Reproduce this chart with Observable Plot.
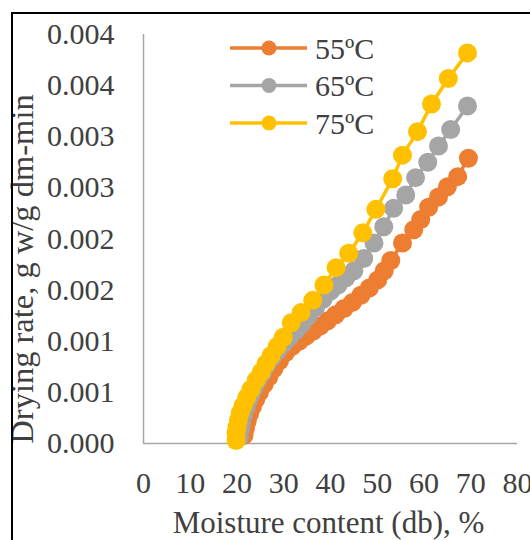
<!DOCTYPE html>
<html>
<head>
<meta charset="utf-8">
<script src="https://cdn.jsdelivr.net/npm/d3@7"></script>
<script src="https://cdn.jsdelivr.net/npm/@observablehq/plot@0.6"></script>
<style>
  html, body { margin: 0; padding: 0; background: #fff; overflow: hidden; }
  #wrap { position: relative; width: 530px; height: 540px; }
  #border { position: absolute; left: 11px; top: 12px; width: 600px; height: 600px;
            border-left: 2px solid #000; border-top: 2px solid #000; pointer-events: none; }
  #legend { position: absolute; left: 0; top: 0; pointer-events: none; }
</style>
</head>
<body>
<div id="wrap"><div id="chart"></div><svg id="legend" width="530" height="540"></svg><div id="border"></div></div>
<script>
// ---- data ----
const series = ["55ºC", "65ºC", "75ºC"];
const colors = ["#ED7D31", "#A5A5A5", "#FFC000"];

const m55 = [69.5,67.2,65.0,63.1,61.0,59.3,57.8,55.4,52.9,51.5,50.1,48.3,46.5,44.7,42.9,41.1,39.4,37.8,36.3,34.8,33.3,31.8,30.4,29.1,27.9,26.8,25.8,24.8,24.0,23.3,22.7,22.2,21.8,21.5];
const r55 = [0.00279,0.00261,0.00251,0.00241,0.00231,0.00219,0.00209,0.00196,0.00179,0.00169,0.00160,0.00152,0.00145,0.00138,0.00132,0.00126,0.00120,0.00115,0.00110,0.00105,0.00100,0.00095,0.00089,0.00081,0.00073,0.00065,0.00058,0.00050,0.00043,0.00036,0.00029,0.00022,0.00015,0.00008];

const m65 = [69.3,65.7,63.1,60.8,58.2,56.1,53.5,51.4,49.3,47.1,45.0,43.3,41.6,40.0,38.4,36.8,35.3,33.9,32.5,31.2,30.0,28.7,27.5,26.4,25.4,24.5,23.7,23.0,22.4,21.9,21.4,21.0,20.7,20.5];
const r65 = [0.00330,0.00307,0.00291,0.00275,0.00260,0.00243,0.00230,0.00212,0.00196,0.00181,0.00169,0.00162,0.00155,0.00149,0.00141,0.00133,0.00125,0.00117,0.00110,0.00104,0.00098,0.00091,0.00084,0.00077,0.00069,0.00062,0.00055,0.00048,0.00042,0.00035,0.00028,0.00021,0.00014,0.00006];

const m75 = [69.3,65.2,61.6,58.6,55.4,53.3,49.7,46.9,43.9,41.2,38.6,36.2,33.7,31.6,29.9,28.6,27.3,26.2,25.2,24.1,23.0,22.1,21.3,20.7,20.3,20.0,19.8,19.8];
const r75 = [0.00382,0.00357,0.00332,0.00305,0.00282,0.00259,0.00229,0.00206,0.00186,0.00172,0.00155,0.00140,0.00128,0.00118,0.00104,0.00095,0.00086,0.00078,0.00070,0.00062,0.00053,0.00045,0.00037,0.00030,0.00023,0.00016,0.00010,0.00003];

const xTicks = [0, 10, 20, 30, 40, 50, 60, 70, 80];
const xLabels = ["0", "10", "20", "30", "40", "50", "60", "70", "80"];
const yTicks = [0, 0.0005, 0.001, 0.0015, 0.002, 0.0025, 0.003, 0.0035, 0.004];
const yLabels = ["0.000", "0.001", "0.001", "0.002", "0.002", "0.003", "0.003", "0.004", "0.004"];

const xTitle = "Moisture content (db), %";
const yTitle = "Drying rate, g w/g dm-min";

// ---- build table ----
const mArr = [m55, m65, m75], rArr = [r55, r65, r75];
const rows = [];
series.forEach((s, k) => mArr[k].forEach((m, i) => rows.push({series: s, m, r: rArr[k][i]})));

const font = "'Liberation Serif', 'Times New Roman', serif";
const textColor = "#404040";
const axisColor = "#a6a6a6";

const seriesMarks = series.flatMap(s => {
  const d = rows.filter(r => r.series === s);
  return [
    Plot.line(d, {x: "m", y: "r", stroke: "series", strokeWidth: 3.5}),
    Plot.dot(d, {x: "m", y: "r", fill: "series", r: 9.5, stroke: null})
  ];
});

const chart = Plot.plot({
  width: 530,
  height: 540,
  marginLeft: 143,
  marginRight: 13,
  marginTop: 34,
  marginBottom: 97,
  x: {domain: [0, 80]},
  y: {domain: [0, 0.004]},
  color: {domain: series, range: colors},
  style: {fontFamily: font, fontSize: "30px", color: textColor, background: "transparent"},
  marks: [
    Plot.ruleY([0], {x1: 0, x2: 80, stroke: axisColor, strokeWidth: 1.5}),
    Plot.ruleX([0], {y1: 0, y2: 0.004, stroke: axisColor, strokeWidth: 1.5}),
    Plot.axisY({ticks: yTicks, tickFormat: d => yLabels[yTicks.indexOf(d)], tickSize: 0, tickPadding: 29,
                label: null, fontSize: 30, fill: textColor}),
    Plot.axisX({ticks: xTicks, tickFormat: d => xLabels[xTicks.indexOf(d)], tickSize: 0, tickPadding: 28,
                label: null, fontSize: 30, fill: textColor}),
    ...seriesMarks,
    Plot.text([xTitle], {frameAnchor: "bottom", dy: 80, dx: -2, fontSize: 31, fill: textColor,
                         lineAnchor: "middle", textAnchor: "middle"}),
    Plot.text([yTitle], {frameAnchor: "left", rotate: -90, dx: -121, dy: 30, fontSize: 32.5, fill: textColor,
                         lineAnchor: "middle", textAnchor: "middle"})
  ]
});
document.getElementById("chart").appendChild(chart);

// ---- legend ----
const lg = d3.select("#legend");
series.forEach((s, i) => {
  const y = 48 + i * 37.5;
  const g = lg.append("g");
  g.append("line").attr("x1", 230).attr("x2", 307).attr("y1", y).attr("y2", y)
    .attr("stroke", colors[i]).attr("stroke-width", 3.5);
  g.append("circle").attr("cx", 269).attr("cy", y).attr("r", 7.5).attr("fill", colors[i]);
  g.append("text").attr("x", 315).attr("y", y + 10.5).attr("font-family", font).attr("font-size", 30)
    .attr("fill", textColor).text(s);
});
</script>
</body>
</html>
